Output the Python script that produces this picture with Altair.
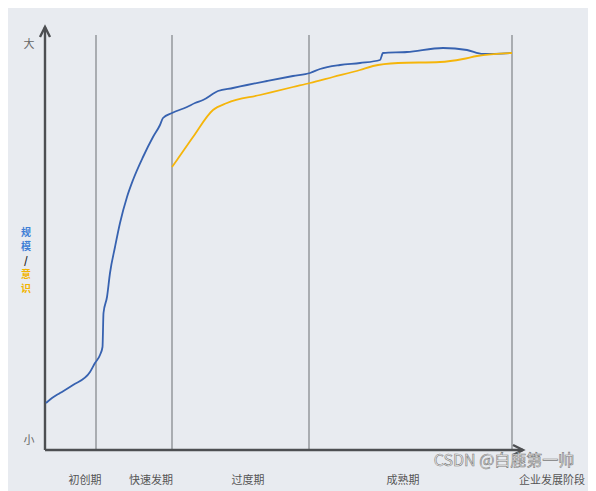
import altair as alt
import pandas as pd

# ---- data (x: time along stages, y: size / awareness) ----
blue_x = [1, 7, 15, 28, 45, 50, 55, 57.5, 58.5, 62, 65, 70, 75, 82, 88, 98, 108, 115, 118, 127, 142, 150,
          158, 173, 188, 202, 222, 248, 265, 275, 295, 315, 335, 338, 362, 398, 422, 438, 467]
blue_y = [47, 52, 57, 65, 78, 87, 95, 103, 137, 153, 177, 203, 227, 253, 270, 293, 313, 325, 332, 337, 343, 347,
          350, 359, 362, 365, 369, 374, 377, 381, 385, 387, 390, 397, 398, 402, 400, 396, 397]
yellow_x = [127, 132, 148, 168, 182, 215, 248, 265, 288, 315, 328, 353, 395, 418, 432, 467]
yellow_y = [283, 290, 313, 340, 347, 355, 363, 367, 373, 380, 384, 387, 388, 391, 394, 397]

stage_bounds = [51, 127, 264, 467]
stage_labels = ["初创期", "快速发期", "过度期", "成熟期", "企业发展阶段"]
stage_label_x = [40, 106, 203, 358, 507]

ylabel_chars = ["规", "模", "/", "意", "识"]
ylabel_colors = ["#3f7fd6", "#3f7fd6", "#222222", "#f2b400", "#f2b400"]
ylabel_y = [217, 203, 189, 175, 161]

X_MAX, Y_MAX = 485, 425
AXIS_TOP, AXIS_RIGHT = 423, 478
STAGE_TOP = 415

xs = alt.Scale(domain=[0, X_MAX], nice=False, zero=False)
ys = alt.Scale(domain=[0, Y_MAX], nice=False, zero=False)

curves = pd.DataFrame(
    {"x": blue_x + yellow_x,
     "y": blue_y + yellow_y,
     "s": ["规模"] * len(blue_x) + ["意识"] * len(yellow_x),
     "o": list(range(len(blue_x))) + list(range(len(yellow_x)))}
)

stages = pd.DataFrame({"x": stage_bounds, "y": [0] * 4, "y2": [STAGE_TOP] * 4})
stage_rules = alt.Chart(stages).mark_rule(color="#8f9296", strokeWidth=1.4).encode(
    x=alt.X("x:Q", scale=xs, axis=None), y=alt.Y("y:Q", scale=ys, axis=None), y2="y2:Q")

axes_df = pd.DataFrame({"x": [0, 0], "y": [0, 0], "x2": [0, AXIS_RIGHT], "y2": [AXIS_TOP, 0]})
axes = alt.Chart(axes_df).mark_rule(color="#4d4f52", strokeWidth=2.4).encode(
    x=alt.X("x:Q", scale=xs, axis=None), y=alt.Y("y:Q", scale=ys, axis=None), x2="x2:Q", y2="y2:Q")

up_arrow = alt.Chart(pd.DataFrame({"x": [0], "y": [AXIS_TOP]})).mark_point(
    shape="M-1,2L0,0L1,2", size=100, filled=False, color="#4d4f52", strokeWidth=2.4, opacity=1).encode(
    x=alt.X("x:Q", scale=xs, axis=None), y=alt.Y("y:Q", scale=ys, axis=None))
right_arrow = alt.Chart(pd.DataFrame({"x": [AXIS_RIGHT], "y": [0]})).mark_point(
    shape="M-2,-1L0,0L-2,1", size=100, filled=False, color="#4d4f52", strokeWidth=2.4, opacity=1).encode(
    x=alt.X("x:Q", scale=xs, axis=None), y=alt.Y("y:Q", scale=ys, axis=None))

lines = alt.Chart(curves).mark_line(strokeWidth=1.8, interpolate="monotone").encode(
    x=alt.X("x:Q", scale=xs, axis=None),
    y=alt.Y("y:Q", scale=ys, axis=None),
    order="o:Q",
    color=alt.Color("s:N", scale=alt.Scale(domain=["规模", "意识"], range=["#3762b0", "#f5b50a"]), legend=None),
)

font = "Noto Sans CJK SC"
lab_df = pd.DataFrame({"x": stage_label_x, "y": [-31] * 5, "t": stage_labels})
stage_text = alt.Chart(lab_df).mark_text(font=font, fontSize=11, color="#555555").encode(
    x=alt.X("x:Q", scale=xs, axis=None), y=alt.Y("y:Q", scale=ys, axis=None), text="t:N")

big_small = alt.Chart(pd.DataFrame({"x": [-16, -16], "y": [405, 9], "t": ["大", "小"]})).mark_text(
    font=font, fontSize=11, color="#666666").encode(
    x=alt.X("x:Q", scale=xs, axis=None), y=alt.Y("y:Q", scale=ys, axis=None), text="t:N")

yl_df = pd.DataFrame({"x": [-19] * 5, "y": ylabel_y, "t": ylabel_chars, "c": ylabel_colors})
ylab = alt.Chart(yl_df).mark_text(font=font, fontSize=10, fontWeight="bold").encode(
    x=alt.X("x:Q", scale=xs, axis=None), y=alt.Y("y:Q", scale=ys, axis=None), text="t:N",
    color=alt.Color("c:N", scale=None))

wm = alt.Chart(pd.DataFrame({"x": [459], "y": [-11], "t": ["CSDN @白鹿第一帅"]})).mark_text(
    font=font, fontSize=16, color="#f7f7f7", stroke="#7a7a7a", strokeWidth=0.6).encode(
    x=alt.X("x:Q", scale=xs, axis=None), y=alt.Y("y:Q", scale=ys, axis=None), text="t:N")

chart = alt.layer(stage_rules, axes, up_arrow, right_arrow, lines, stage_text, big_small, ylab, wm).properties(
    width=X_MAX, height=Y_MAX,
    autosize=alt.AutoSizeParams(type="none"),
    padding={"left": 37, "top": 17, "right": 58, "bottom": 41},
    background="#e8ebf0",
).configure_view(stroke=None)

chart.save("out.html", embed_options={"renderer": "svg", "actions": False})
